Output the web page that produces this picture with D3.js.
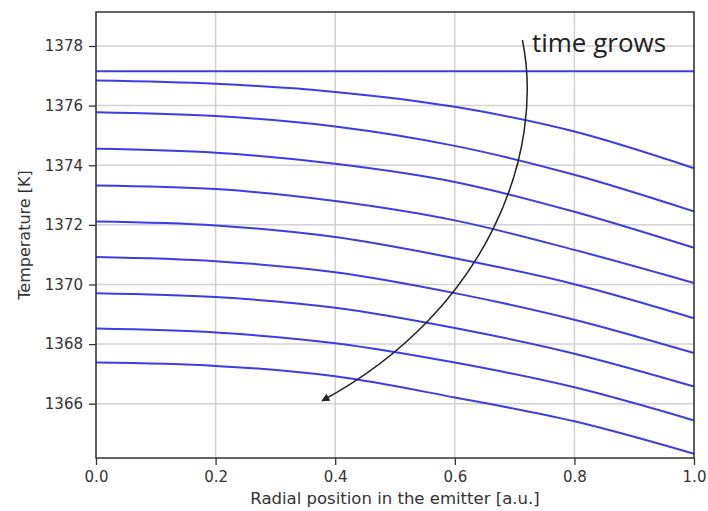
<!DOCTYPE html>
<html>
<head>
<meta charset="utf-8">
<script src="https://cdn.jsdelivr.net/npm/d3@7"></script>
<style>
  body { margin: 0; background: #fff; }
  svg { display: block; }
  .axis text { font-family: "DejaVu Sans", sans-serif; font-size: 15px; fill: #333; }
  .axis path, .axis line { stroke: #333; }
</style>
</head>
<body>
<div id="chart"></div>
<script>
// temperature profiles in the emitter, one curve per time step

// radial positions where the curves were read
var radial = [0, 0.2, 0.4, 0.6, 0.8, 1.0];

// temperature [K] at each radial position, earliest time first
var profiles = [
    [1377.15, 1377.15, 1377.15, 1377.15, 1377.15, 1377.15],
    [1376.84, 1376.73, 1376.46, 1375.96, 1375.13, 1373.90],
    [1375.78, 1375.65, 1375.30, 1374.65, 1373.68, 1372.45],
    [1374.55, 1374.42, 1374.05, 1373.44, 1372.44, 1371.23],
    [1373.32, 1373.20, 1372.80, 1372.15, 1371.16, 1370.05],
    [1372.11, 1371.98, 1371.59, 1370.88, 1370.01, 1368.87],
    [1370.92, 1370.78, 1370.41, 1369.71, 1368.82, 1367.70],
    [1369.71, 1369.58, 1369.22, 1368.54, 1367.68, 1366.58],
    [1368.52, 1368.39, 1368.03, 1367.38, 1366.55, 1365.44],
    [1367.38, 1367.27, 1366.92, 1366.21, 1365.41, 1364.32]
];

var xTicks = [0, 0.2, 0.4, 0.6, 0.8, 1.0];
var yTicks = [1366, 1368, 1370, 1372, 1374, 1376, 1378];

// "time grows" arrow, in data units: start, two control points, tip
var arrowPts = [[0.713, 1378.2], [0.751, 1374.5], [0.659, 1369.15], [0.378, 1366.1]];

var margin = {
    left: 96,
    right: 14,
    top: 12,
    bottom: 53
};

var width = 708 - margin.left - margin.right,
    height = 511 - margin.top - margin.bottom;

var svg = d3.select("#chart")
    .append("svg")
    .attr("width", 708)
    .attr("height", 511);

var xScale = d3.scaleLinear()
    .domain([0, 1])
    .range([0, width]);

var yScale = d3.scaleLinear()
    .domain([1364.18, 1379.14])
    .range([height, 0]);

var chartGroup = svg.append("g")
    .attr("transform", "translate(" + margin.left + "," + margin.top + ")");

// grid
chartGroup.selectAll(".gx")
    .data(xTicks)
    .enter().append("line")
    .attr("x1", function (d) { return xScale(d); })
    .attr("x2", function (d) { return xScale(d); })
    .attr("y1", 0)
    .attr("y2", height)
    .attr("stroke", "#d2d2d2")
    .attr("stroke-width", 1.5);

chartGroup.selectAll(".gy")
    .data(yTicks)
    .enter().append("line")
    .attr("x1", 0)
    .attr("x2", width)
    .attr("y1", function (d) { return yScale(d); })
    .attr("y2", function (d) { return yScale(d); })
    .attr("stroke", "#d2d2d2")
    .attr("stroke-width", 1.5);

// profiles
var line = d3.line()
    .x(function (d, i) { return xScale(radial[i]); })
    .y(function (d) { return yScale(d); })
    .curve(d3.curveMonotoneX);

chartGroup.selectAll(".profile")
    .data(profiles)
    .enter().append("path")
    .attr("class", "profile")
    .attr("d", line)
    .attr("fill", "none")
    .attr("stroke", "#3c3ce8")
    .attr("stroke-width", 2);

// axes
var xAxis = d3.axisBottom(xScale)
    .tickValues(xTicks)
    .tickFormat(d3.format(".1f"))
    .tickSize(7)
    .tickPadding(6);

var yAxis = d3.axisLeft(yScale)
    .tickValues(yTicks)
    .tickFormat(d3.format("d"))
    .tickSize(7)
    .tickPadding(6);

chartGroup.append("g")
    .attr("class", "axis x")
    .attr("transform", "translate(0," + height + ")")
    .call(xAxis)
    .call(function (g) { g.select(".domain").remove(); })
    .selectAll("line").attr("stroke-width", 1.3);

chartGroup.append("g")
    .attr("class", "axis y")
    .call(yAxis)
    .call(function (g) { g.select(".domain").remove(); })
    .selectAll("line").attr("stroke-width", 1.3);

// frame
chartGroup.append("rect")
    .attr("width", width)
    .attr("height", height)
    .attr("fill", "none")
    .attr("stroke", "#333")
    .attr("stroke-width", 1.5);

// axis labels
svg.append("text")
    .attr("x", margin.left + width / 2)
    .attr("y", 504)
    .attr("text-anchor", "middle")
    .attr("font-family", "DejaVu Sans, sans-serif")
    .attr("font-size", "16.5px")
    .attr("fill", "#333")
    .text("Radial position in the emitter [a.u.]");

svg.append("text")
    .attr("transform", "translate(30," + (margin.top + height / 2) + ") rotate(-90)")
    .attr("text-anchor", "middle")
    .attr("font-family", "DejaVu Sans, sans-serif")
    .attr("font-size", "16px")
    .attr("fill", "#333")
    .text("Temperature [K]");

// annotation
svg.append("defs").append("marker")
    .attr("id", "head")
    .attr("viewBox", "0 0 10 10")
    .attr("refX", 9)
    .attr("refY", 5)
    .attr("markerWidth", 9)
    .attr("markerHeight", 8)
    .attr("markerUnits", "userSpaceOnUse")
    .attr("orient", "auto")
    .append("path")
    .attr("d", "M0,0 L10,5 L0,10 Z")
    .attr("fill", "#222");

var p = arrowPts.map(function (d) { return [xScale(d[0]), yScale(d[1])]; });
var arrowPath = d3.path();
arrowPath.moveTo(p[0][0], p[0][1]);
arrowPath.bezierCurveTo(p[1][0], p[1][1], p[2][0], p[2][1], p[3][0], p[3][1]);

chartGroup.append("path")
    .attr("d", arrowPath.toString())
    .attr("fill", "none")
    .attr("stroke", "#222")
    .attr("stroke-width", 1.5)
    .attr("marker-end", "url(#head)");

chartGroup.append("text")
    .attr("x", xScale(0.729))
    .attr("y", yScale(1377.8))
    .attr("font-family", "Open Sans, sans-serif")
    .attr("font-size", "26px")
    .attr("fill", "#222")
    .text("time grows");
</script>
</body>
</html>
